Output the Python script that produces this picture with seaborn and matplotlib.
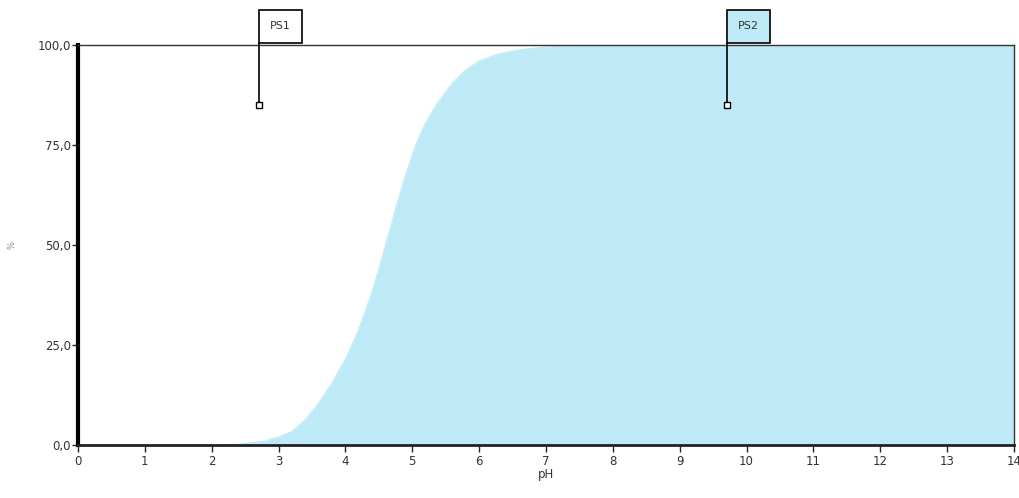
import numpy as np
import pandas as pd
import seaborn as sns
import matplotlib.pyplot as plt
from matplotlib.patches import Rectangle

# curve
ph = [0, 1, 2, 2.4, 2.8, 3.0, 3.2, 3.4, 3.6, 3.8, 4.0, 4.1, 4.2, 4.3, 4.4,
      4.5, 4.6, 4.7, 4.8, 4.9, 5.0, 5.1, 5.2, 5.3, 5.4, 5.6, 5.8, 6.0, 6.3,
      6.6, 7.0, 7.5, 8, 14]
fraction = [0, 0, 0, 0.2, 1.0, 2.0, 3.4, 6.3, 10.5, 15.5, 21.5, 25, 29, 33.5, 38.5,
            44, 50, 56, 62, 67.5, 72.5, 77, 80.5, 83.5, 86, 90.5, 93.8, 96, 97.8,
            98.8, 99.5, 99.9, 100, 100]

# the two markers
marker_names = ["PS1", "PS2"]
marker_ph = [2.7, 9.7]
marker_val = [85, 85]

x_ticks = list(range(0, 15))
y_ticks = [0, 25, 50, 75, 100]
y_labels = ["0,0", "25,0", "50,0", "75,0", "100,0"]

fill_col = "#bee9f7"

df = pd.DataFrame({"pH": ph, "val": fraction})

sns.set_style("white")
plt.rcParams["font.family"] = ["DejaVu Sans"]

fig = plt.figure(figsize=(10.2, 4.98), dpi=100)
ax = fig.add_axes([78 / 1020, 53 / 498, 936 / 1020, 400 / 498])

sns.lineplot(data=df, x="pH", y="val", color=fill_col, linewidth=0.8, ax=ax)
ax.fill_between(df["pH"], 0, df["val"], color=fill_col, linewidth=0)

ax.set_xlim(0, 14)
ax.set_ylim(0, 100)
ax.set_xticks(x_ticks)
ax.set_xticklabels([str(t) for t in x_ticks], fontsize=8.5, color="#333333")
ax.set_yticks(y_ticks)
ax.set_yticklabels(y_labels, fontsize=8.5, color="#333333")
ax.tick_params(axis="x", direction="out", length=5, width=1, pad=2, bottom=True)
ax.tick_params(axis="y", direction="out", length=4, width=1, pad=1, left=True)
ax.set_xlabel("pH", fontsize=8.5, color="#333333", labelpad=0)
ax.set_ylabel("")
fig.text(12 / 1020, 1 - 245 / 498, "%", fontsize=6, color="#888888",
         rotation=90, ha="center", va="center")

for side in ["top", "right"]:
    ax.spines[side].set_linewidth(1)
    ax.spines[side].set_color("#333333")
ax.spines["left"].set_linewidth(3)
ax.spines["left"].set_color("black")
ax.spines["bottom"].set_linewidth(2)
ax.spines["bottom"].set_color("#222222")

# flag markers with boxes above the plot
px_x = 14 / 936
px_y = 100 / 400
for name, mx, my, fc in zip(marker_names, marker_ph, marker_val, ["white", fill_col]):
    ax.plot([mx, mx], [my, 100.5], color="black", linewidth=1.2, clip_on=False, zorder=5)
    ax.plot([mx], [my], marker="s", markersize=4, markerfacecolor="white",
            markeredgecolor="black", markeredgewidth=1, clip_on=False, zorder=6)
    w = 43 * px_x
    h = 33 * px_y
    ax.add_patch(Rectangle((mx, 100.5), w, h, facecolor=fc, edgecolor="black",
                           linewidth=1.2, clip_on=False, zorder=5))
    ax.text(mx + w / 2, 100.5 + h / 2, name, ha="center", va="center",
            fontsize=8, color="#333333", clip_on=False, zorder=6)

fig.savefig("out.png", dpi=100)
